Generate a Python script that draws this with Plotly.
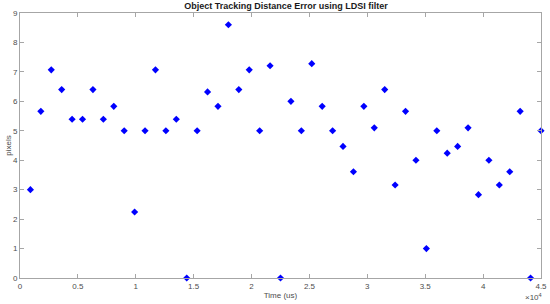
import plotly.graph_objects as go

# Time stamps (us) and distance error (pixels)
time_us = [900, 1800, 2700, 3600, 4500, 5400, 6300, 7200, 8100, 9000,
           9900, 10800, 11700, 12600, 13500, 14400, 15300, 16200, 17100, 18000,
           18900, 19800, 20700, 21600, 22500, 23400, 24300, 25200, 26100, 27000,
           27900, 28800, 29700, 30600, 31500, 32400, 33300, 34200, 35100, 36000,
           36900, 37800, 38700, 39600, 40500, 41400, 42300, 43200, 44100, 45000]
error_px = [3.00, 5.66, 7.07, 6.40, 5.39, 5.39, 6.40, 5.39, 5.83, 5.00,
            2.24, 5.00, 7.07, 5.00, 5.39, 0.00, 5.00, 6.32, 5.83, 8.60,
            6.40, 7.07, 5.00, 7.21, 0.00, 6.00, 5.00, 7.28, 5.83, 5.00,
            4.47, 3.61, 5.83, 5.10, 6.40, 3.16, 5.66, 4.00, 1.00, 5.00,
            4.24, 4.47, 5.10, 2.83, 4.00, 3.16, 3.61, 5.66, 0.00, 5.00]

x_tickvals = [0, 5000, 10000, 15000, 20000, 25000, 30000, 35000, 40000, 45000]
x_ticktext = ["0", "0.5", "1", "1.5", "2", "2.5", "3", "3.5", "4", "4.5"]
y_tickvals = [0, 1, 2, 3, 4, 5, 6, 7, 8, 9]

axis_grey = "#a6a6a6"
text_grey = "#4d4d4d"

fig = go.Figure()
fig.add_trace(go.Scatter(
    x=time_us, y=error_px, mode="markers", cliponaxis=False,
    marker=dict(symbol="diamond", size=5.5, color="#0000ff", line=dict(width=0)),
    showlegend=False
))

fig.update_layout(
    width=550, height=304,
    paper_bgcolor="white", plot_bgcolor="white",
    font=dict(family="Liberation Sans, Arial, sans-serif", size=8, color=text_grey),
    margin=dict(l=20, r=9, t=13, b=26, autoexpand=False),
    title=dict(text="<b>Object Tracking Distance Error using LDSI filter</b>",
               x=0.52, xanchor="center", y=0.99, yanchor="top",
               font=dict(size=9, color="#1a1a1a")),
    annotations=[dict(text="\u00d710<sup>4</sup>", xref="paper", yref="paper",
                      x=0.985, y=-0.045, xanchor="center", yanchor="top",
                      showarrow=False, font=dict(size=8, color=text_grey))]
)

fig.update_xaxes(
    range=[0, 45000], tickvals=x_tickvals, ticktext=x_ticktext, automargin=False,
    showgrid=False, zeroline=False, showline=True, linecolor=axis_grey, linewidth=1,
    mirror="ticks", ticks="inside", ticklen=4, tickcolor=axis_grey,
    title=dict(text="Time (us)", standoff=2, font=dict(size=8, color=text_grey))
)
fig.update_yaxes(
    range=[0, 9], tickvals=y_tickvals, automargin=False,
    showgrid=False, zeroline=False, showline=True, linecolor=axis_grey, linewidth=1,
    mirror="ticks", ticks="inside", ticklen=4, tickcolor=axis_grey,
    title=dict(text="pixels", standoff=0, font=dict(size=8, color=text_grey))
)

fig.write_html("out.html", config={"displayModeBar": False},
               post_script="document.body.style.margin='0';")
